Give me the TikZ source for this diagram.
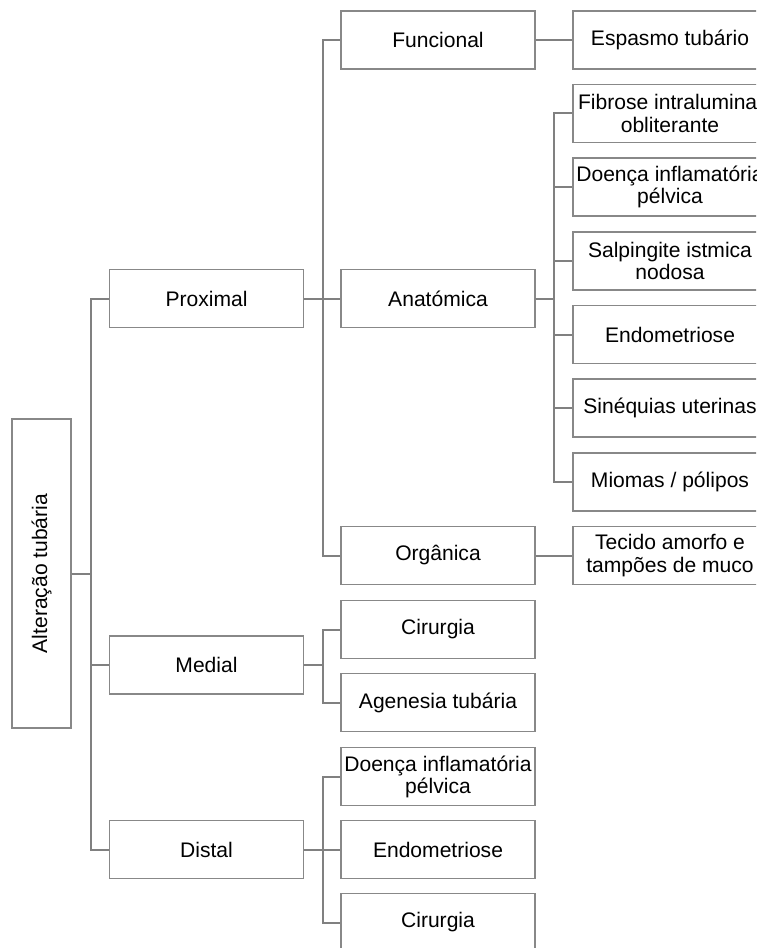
\documentclass[tikz,border=0pt]{standalone}
\usepackage{fontspec}
\setmainfont{Liberation Sans}
\definecolor{lgray}{RGB}{128,128,128}
\definecolor{bgray}{RGB}{136,136,136}
\begin{document}
\begin{tikzpicture}[x=0.75pt,y=-0.75pt,
  box/.style={draw=bgray, line width=1pt, fill=white, inner sep=0pt,
    minimum width=145.5pt, minimum height=43.5pt, align=center,
    font=\fontsize{15.8}{16.6}\selectfont, text=black},
  rootbox/.style={box, minimum width=44.25pt, minimum height=231.75pt},
  link/.style={draw=lgray, line width=1.5pt}]
\useasboundingbox (0,0) rectangle (756,948);
\clip (0,0) rectangle (756,948);
% nodes
\node[rootbox] (root) at (41.5,573.5) {\rotatebox{90}{Alteração tubária}};
\node[box] (prox) at (206.5,298.5) {Proximal};
\node[box] (med) at (206.5,665) {Medial};
\node[box] (dist) at (206.5,849.5) {Distal};
\node[box] (func) at (438,40) {Funcional};
\node[box] (anat) at (438,298.5) {Anatómica};
\node[box] (orga) at (438,555.5) {Orgânica};
\node[box] (cir1) at (438,629.5) {Cirurgia};
\node[box] (agen) at (438,702.5) {Agenesia tubária};
\node[box] (dip2) at (438,776.5) {Doença inflamatória\\pélvica};
\node[box] (end2) at (438,849.5) {Endometriose};
\node[box] (cir2) at (438,922.5) {Cirurgia};
\node[box] (esp) at (670,40) {Espasmo tubário};
\node[box] (fib) at (670,113.5) {Fibrose intraluminal\\obliterante};
\node[box] (dip1) at (670,187) {Doença inflamatória\\pélvica};
\node[box] (sal) at (670,261) {Salpingite istmica\\nodosa};
\node[box] (end1) at (670,334.5) {Endometriose};
\node[box] (sin) at (670,408) {Sinéquias uterinas};
\node[box] (mio) at (670,482) {Miomas / pólipos};
\node[box] (tec) at (670,555.5) {Tecido amorfo e\\tampões de muco};
% connectors
\foreach \c in {prox,med,dist}{\draw[link] (root.east) -- ++(19,0) |- (\c.west);}
\foreach \c in {func,anat,orga}{\draw[link] (prox.east) -- ++(19,0) |- (\c.west);}
\foreach \c in {cir1,agen}{\draw[link] (med.east) -- ++(19,0) |- (\c.west);}
\foreach \c in {dip2,end2,cir2}{\draw[link] (dist.east) -- ++(19,0) |- (\c.west);}
\draw[link] (func.east) -- (esp.west);
\foreach \c in {fib,dip1,sal,end1,sin,mio}{\draw[link] (anat.east) -- ++(18,0) |- (\c.west);}
\draw[link] (orga.east) -- (tec.west);
\end{tikzpicture}
\end{document}
